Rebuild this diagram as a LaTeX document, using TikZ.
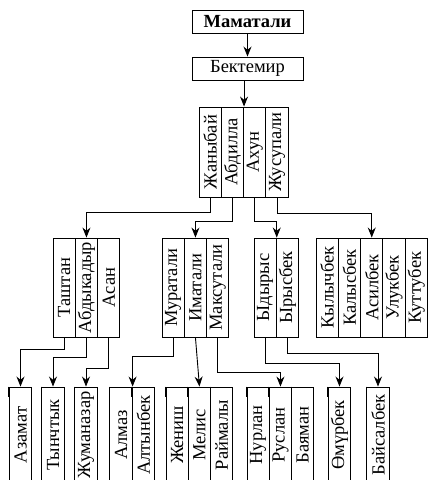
\documentclass[tikz,border=0pt]{standalone}
\usepackage{fontspec}
\setmainfont{Liberation Serif}
\usetikzlibrary{arrows.meta}
\begin{document}
\begin{tikzpicture}[x=1pt, y=-1pt, line width=0.9pt,
	cell/.style={draw, rotate=90, inner sep=0pt, minimum height=22.3pt, font=\fontsize{18.5}{18.5}\selectfont},
	rowa/.style={cell, minimum width=90pt},
	rowb/.style={cell, minimum width=99pt},
	rowc/.style={cell, minimum width=96pt},
	head/.style={draw, inner sep=0pt, minimum width=111pt, minimum height=23pt, font=\fontsize{18.5}{18.5}\selectfont},
	arr/.style={-{Stealth[length=10pt,width=8pt]}}]
		\useasboundingbox (0,0) rectangle (428,480);
		\clip (0,0) rectangle (428,480);

		\node[head, font=\bfseries\fontsize{18.5}{18.5}\selectfont] (mamatali) at (247.5,22) {Маматали};
		\node[head] (bektemir) at (247.5,68.5) {Бектемир};
		\draw[arr] (mamatali) -- (bektemir);

		% first generation
		\node[rowa] (zhanybai) at (210.15,152) {Жаныбай};
		\node[rowa] (abdilla) at (232.45,152) {Абдилла};
		\node[rowa] (akhun) at (254.75,152) {Ахун};
		\node[rowa] (zhusupali) at (277.05,152) {Жусупали};
		\draw[arr] (bektemir.south -| abdilla.south east) -- (abdilla.south east);

		% second generation
		\node[rowb] (tashtan) at (64.15,287.5) {Таштан};
		\node[rowb] (abdykadyr) at (86.45,287.5) {Абдыкадыр};
		\node[rowb] (asan) at (108.75,287.5) {Асан};

		\node[rowb] (muratali) at (173.15,287.5) {Муратали};
		\node[rowb] (imatali) at (195.45,287.5) {Иматали};
		\node[rowb] (maksutali) at (217.75,287.5) {Максутали};

		\node[rowb] (ydyrys) at (265.15,287.5) {Ыдырыс};
		\node[rowb] (yrysbek) at (287.45,287.5) {Ырысбек};

		\node[rowb] (kylychbek) at (327.15,287.5) {Кылычбек};
		\node[rowb] (kalysbek) at (349.45,287.5) {Калысбек};
		\node[rowb] (asilbek) at (371.75,287.5) {Асилбек};
		\node[rowb] (ulukbek) at (394.05,287.5) {Улукбек};
		\node[rowb] (kuttubek) at (416.35,287.5) {Куттубек};

		\draw[arr] (zhanybai.west) -- ++(0,15) -| (abdykadyr.east);
		\draw[arr] (abdilla.west) -- ++(0,24) -| (imatali.east);
		\draw[arr] (akhun.west) -- ++(0,24) -| (ydyrys.south east);
		\draw[arr] (zhusupali.west) -- ++(0,16) -| (asilbek.east);

		% third generation
		\node[rowc] (azamat) at (20.5,435) {Азамат};
		\node[rowc] (tynchtyk) at (53,435) {Тынчтык};
		\node[rowc] (zhumanazar) at (86,435) {Жуманазар};

		\node[rowc] (almaz) at (121,435) {Алмаз};
		\node[rowc] (altynbek) at (143.3,435) {Алтынбек};

		\node[rowc] (zhenish) at (177.15,435) {Жениш};
		\node[rowc] (melis) at (199.45,435) {Мелис};
		\node[rowc] (raimaly) at (221.75,435) {Раймалы};

		\node[rowc] (nurlan) at (258.15,435) {Нурлан};
		\node[rowc] (ruslan) at (280.45,435) {Руслан};
		\node[rowc] (bayaman) at (302.75,435) {Баяман};

		\node[rowc] (omurbek) at (339.5,435) {Өмүрбек};
		\node[rowc] (baisalbek) at (378,435) {Байсалбек};
		\foreach \n in {azamat,tynchtyk,zhumanazar,almaz,altynbek,zhenish,melis,raimaly,nurlan,ruslan,bayaman,omurbek,baisalbek}
			\draw (\n.north west) -- ++(0,10) (\n.north east) -- ++(0,10);

		\draw[arr] (tashtan.west) -- ++(0,12) -| (azamat.east);
		\draw[arr] (abdykadyr.west) -- ++(0,20) -| (tynchtyk.east);
		\draw[arr] (asan.west) -- ++(0,31) -| (zhumanazar.east);
		\draw[arr] (muratali.west) -- ++(0,19) -| (almaz.south east);
		\draw[arr] (imatali.west) -- (melis.east);
		\draw[arr] (maksutali.west) -- ++(0,35) -| (ruslan.east);
		\draw[arr] (ydyrys.west) -- ++(0,26) -| (omurbek.east);
		\draw[arr] (yrysbek.west) -- ++(0,16) -| (baisalbek.east);

	\end{tikzpicture}
\end{document}
